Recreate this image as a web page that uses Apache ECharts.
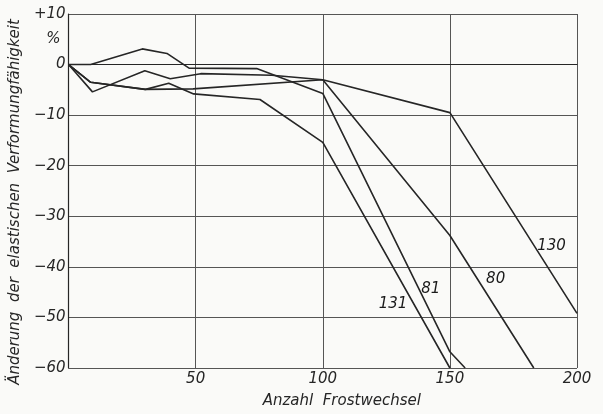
<!DOCTYPE html>
<html>
<head>
<meta charset="utf-8">
<script src="https://cdn.jsdelivr.net/npm/echarts@6/dist/echarts.min.js"></script>
<style>html,body{margin:0;padding:0;background:#fafaf8;}#c{width:603px;height:414px;}</style>
</head>
<body>
<div id="c"></div>
<script>
// Data
const s130 = [[0,0],[9.4,-5.4],[30,-1.2],[40,-2.8],[52,-1.8],[80,-2.1],[100,-3],[150,-9.5],[200,-49.2]];
const s80  = [[0,0],[8.7,-3.5],[30,-4.9],[49,-4.8],[100,-3],[150,-33.8],[183,-60]];
const s81  = [[0,0],[8.7,0],[29,3.1],[38.7,2.2],[47.4,-0.7],[74,-0.8],[100,-5.7],[150,-56.8],[156,-60]];
const s131 = [[0,0],[8.7,-3.5],[30.3,-4.9],[39.4,-3.7],[49.2,-5.8],[75.3,-6.9],[100,-15.4],[150,-60]];
const labelNames = ['130','80','81','131'];
const labelX = [190,168,142.5,127.6];
const labelY = [-35.8,-42.5,-44.4,-47.4];
const xTicks = [50,100,150,200];
const yTicks = [-60,-50,-40,-30,-20,-10,0,10];

const FONT = 'DejaVu Sans';
const INK = '#262626';
const chart = echarts.init(document.getElementById('c'));
const lineSeries = (name, data) => ({
  name, type: 'line', data, symbol: 'none', smooth: false,
  lineStyle: {color: INK, width: 1.6}, z: 3
});
chart.setOption({
  backgroundColor: '#fafaf8',
  animation: false,
  grid: {left: 66, right: 26, top: 14, bottom: 44},
  xAxis: {
    type: 'value', min: 0, max: 200, interval: 50,
    axisLine: {show: true, lineStyle: {color: INK, width: 1.2}},
    axisTick: {show: false},
    splitLine: {show: true, lineStyle: {color: '#555', width: 1}},
    axisLabel: {
      color: INK, fontFamily: FONT, fontStyle: 'italic', fontSize: 15, margin: 4,
      formatter: v => xTicks.includes(v) ? String(v) : '', showMaxLabel: true
    },
    name: 'Anzahl  Frostwechsel', nameLocation: 'middle', nameGap: 26,
    nameTextStyle: {color: INK, fontFamily: FONT, fontStyle: 'italic', fontSize: 15, padding: [0,0,0,38]}
  },
  yAxis: [{
    type: 'value', min: -60, max: 10, interval: 10,
    axisLine: {show: true, lineStyle: {color: INK, width: 1.2}},
    axisTick: {show: false},
    splitLine: {show: true, lineStyle: {color: '#555', width: 1}},
    axisLabel: {
      color: INK, fontFamily: FONT, fontStyle: 'italic', fontSize: 15, margin: 3,
      formatter: v => yTicks.includes(v) ? (v > 0 ? '+' + v : (v < 0 ? '\u2212' + Math.abs(v) : '0')) : ''
    },
    name: 'Änderung  der  elastischen  Verformungfähigkeit', nameLocation: 'middle', nameGap: 45,
    nameTextStyle: {color: INK, fontFamily: FONT, fontStyle: 'italic', fontSize: 15, padding: [0,22,0,0]}
  }, {
    type: 'value', min: -60, max: 10, interval: 5, position: 'left',
    axisLine: {show: false}, axisTick: {show: false}, splitLine: {show: false},
    axisLabel: {color: INK, fontFamily: FONT, fontStyle: 'italic', fontSize: 15, margin: 8,
      formatter: v => v === 5 ? '%' : ''}
  }],
  series: [
    lineSeries('130', s130),
    lineSeries('80', s80),
    lineSeries('81', s81),
    lineSeries('131', s131),
    {
      type: 'scatter', symbolSize: 1, z: 4, itemStyle: {opacity: 0},
      data: labelNames.map((n, i) => ({name: n, value: [labelX[i], labelY[i]]})),
      label: {show: true, position: 'inside', formatter: p => p.name, opacity: 1,
        color: '#1a1a1a', fontFamily: FONT, fontStyle: 'italic', fontSize: 15}
    }
  ]
});
</script>
</body>
</html>
